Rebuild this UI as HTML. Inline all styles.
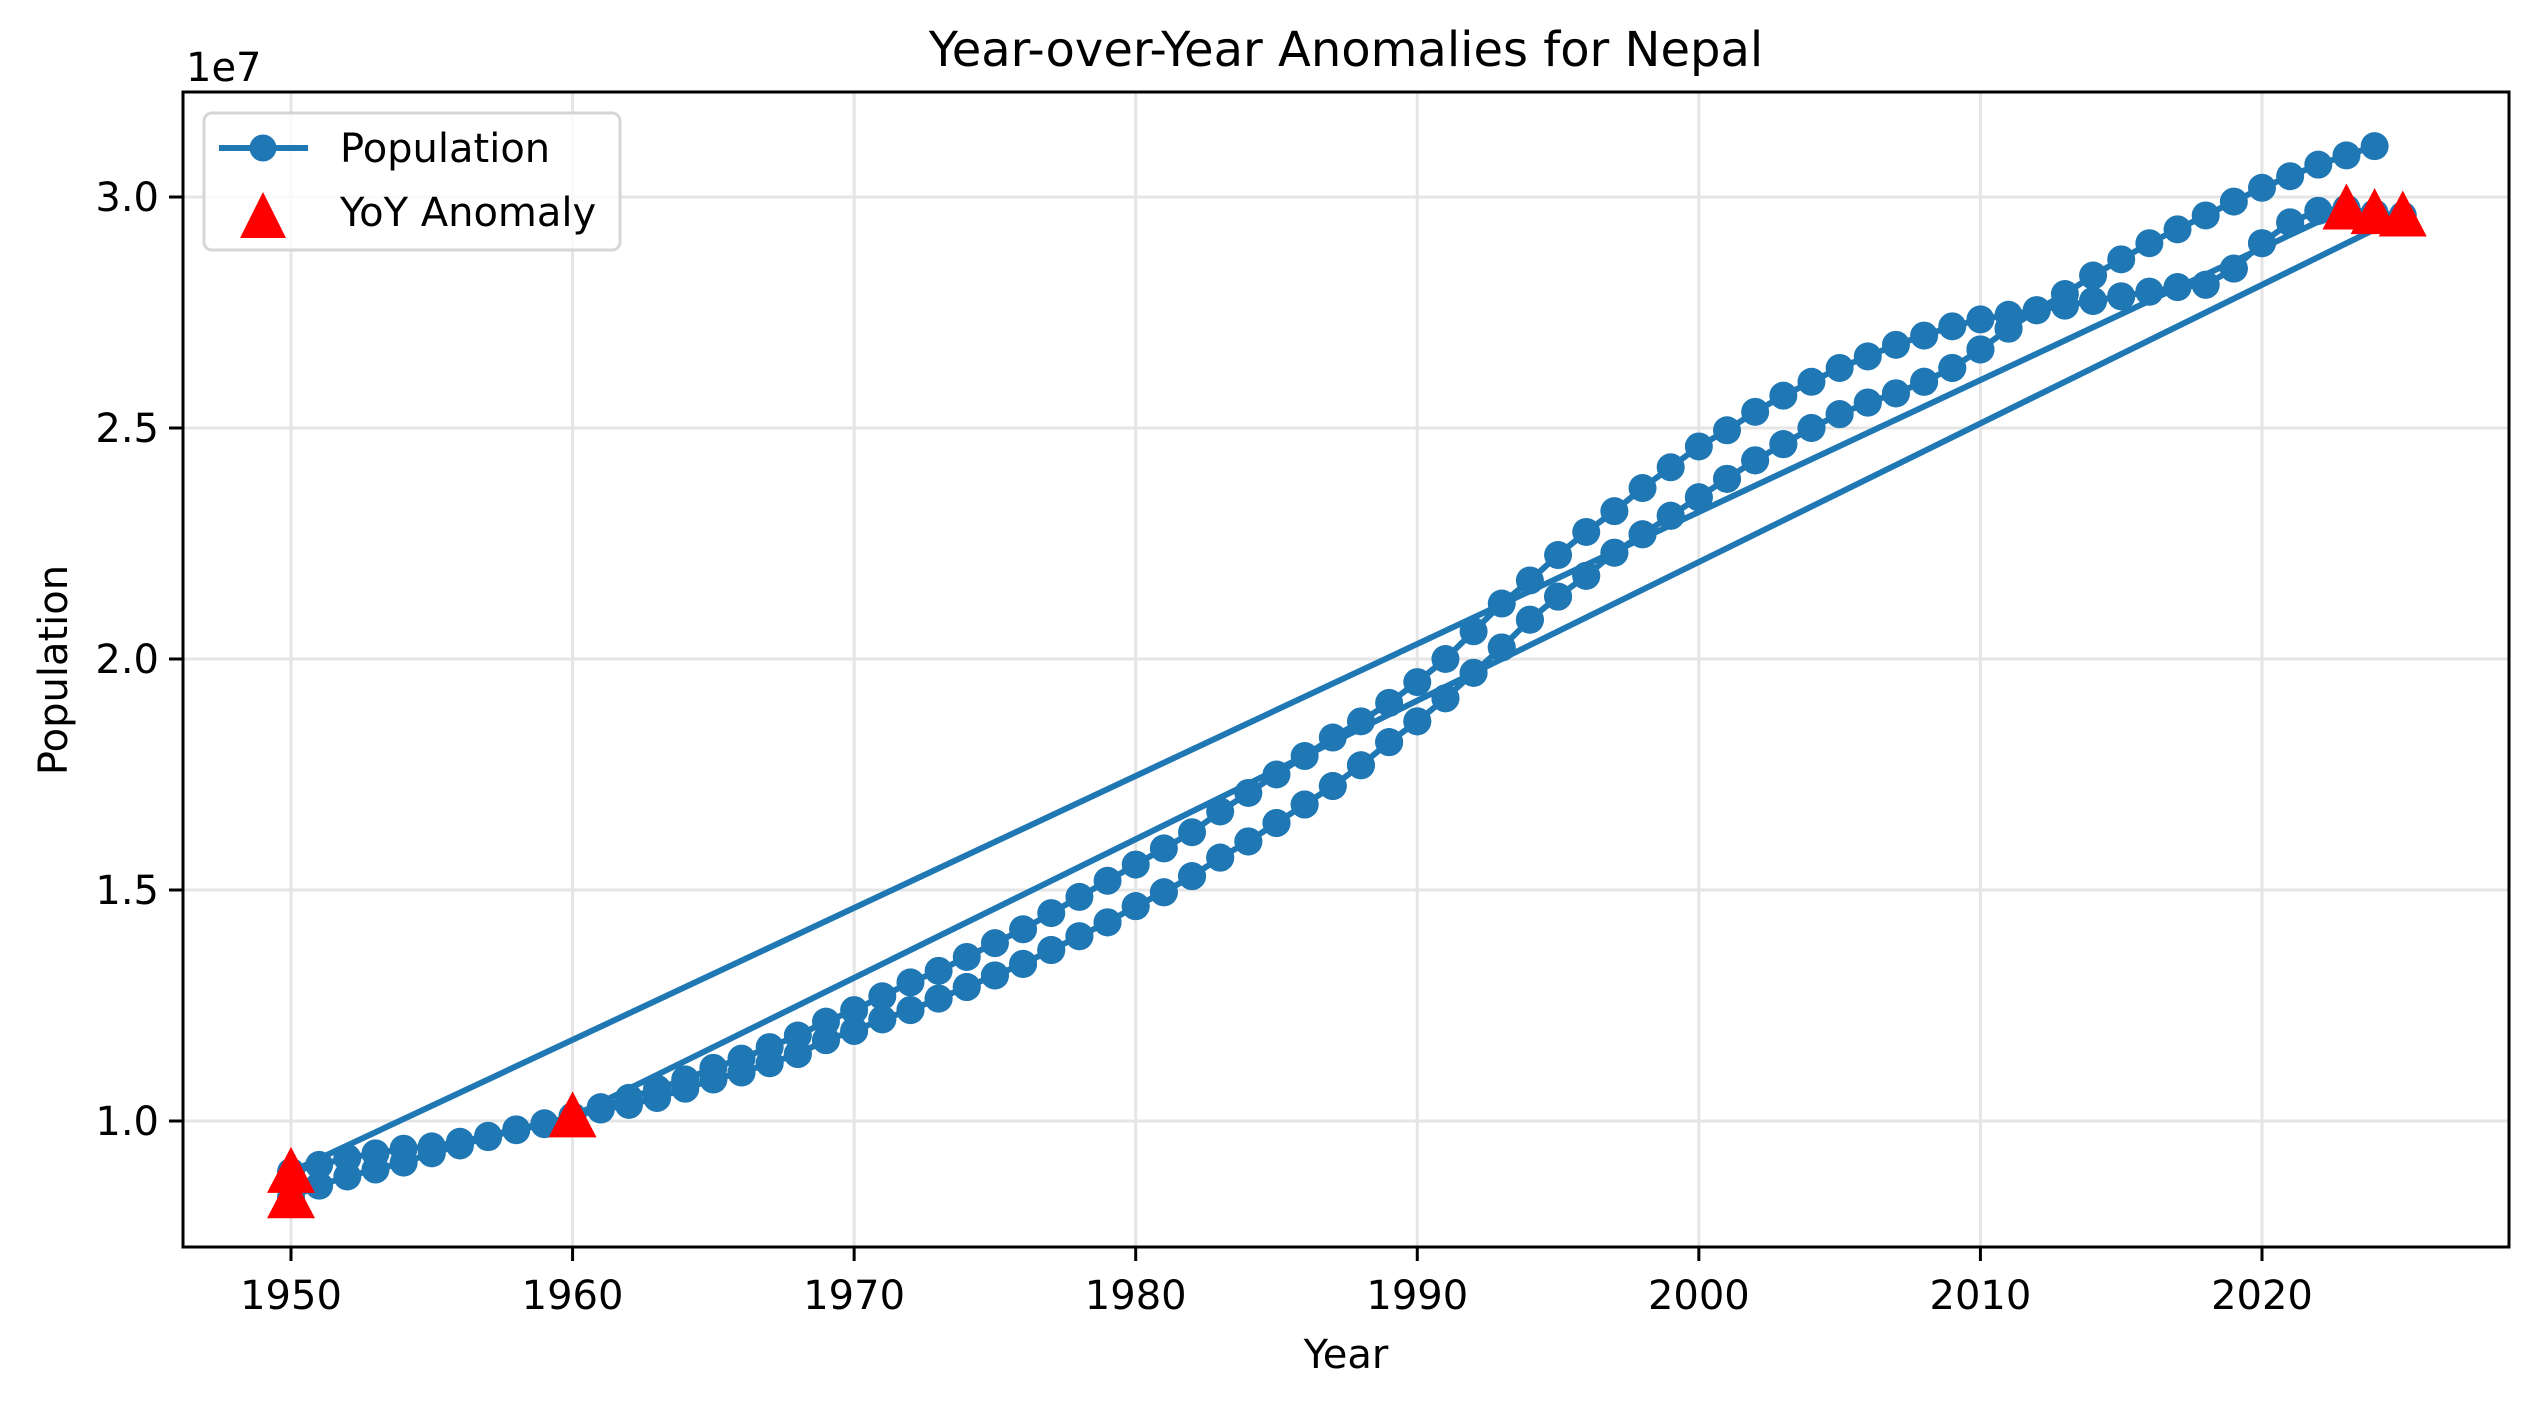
<!DOCTYPE html>
<html><head><meta charset="utf-8"><style>
html,body{margin:0;padding:0;background:#fff;}
svg{display:block;font-family:"DejaVu Sans","Liberation Sans",sans-serif;}
</style></head><body>
<svg id="chart" width="2539" height="1407" viewBox="0 0 2539 1407" xmlns="http://www.w3.org/2000/svg">
<rect width="2539" height="1407" fill="#fff"/>
<text x="1346" y="66" font-size="48" text-anchor="middle">Year-over-Year Anomalies for Nepal</text>
<g id="grid"></g>
<g id="series"></g>
<g id="axes"></g>
<text x="186" y="81" font-size="40">1e7</text>
<text x="1346" y="1368" font-size="40" text-anchor="middle">Year</text>
<text transform="translate(67,670) rotate(-90)" font-size="40" text-anchor="middle">Population</text>
<g>
<rect x="204" y="113" width="416" height="137" rx="8" fill="#fff" fill-opacity="0.8" stroke="#d6d6d6" stroke-width="3"/>
<line x1="219" y1="148" x2="308" y2="148" stroke="#1f77b4" stroke-width="6"/>
<circle cx="263" cy="148" r="13.5" fill="#1f77b4"/>
<text x="340" y="162" font-size="40">Population</text>
<polygon points="263,192 286,238 240,238" fill="#ff0000"/>
<text x="340" y="226" font-size="40">YoY Anomaly</text>
</g>
</svg>
<script>
// Data (population in millions)
const yearsA = [];for(let y=1950;y<=2025;y++)yearsA.push(y);
const popA = [8.35,8.6,8.8,8.95,9.1,9.3,9.47,9.65,9.8,9.93,10.1,10.25,10.35,10.5,10.7,10.9,11.05,11.25,11.45,11.75,11.95,12.2,12.4,12.65,12.9,13.15,13.4,13.7,14.0,14.3,14.65,14.95,15.3,15.7,16.05,16.45,16.85,17.25,17.7,18.2,18.65,19.15,19.7,20.25,20.85,21.35,21.8,22.3,22.7,23.1,23.5,23.9,24.3,24.65,25.0,25.3,25.55,25.75,26.0,26.3,26.7,27.15,27.55,27.65,27.75,27.85,27.95,28.05,28.1,28.45,29.0,29.45,29.7,29.75,29.65,29.6];
const yearsB = [];for(let y=1960;y<=2023;y++)yearsB.push(y);
const popB = [10.1,10.25,10.35,10.5,10.7,10.9,11.05,11.25,11.45,11.75,11.95,12.2,12.4,12.65,12.9,13.15,13.4,13.7,14.0,14.3,14.65,14.95,15.3,15.7,16.05,16.45,16.85,17.25,17.7,18.2,18.65,19.15,19.7,20.25,20.85,21.35,21.8,22.3,22.7,23.1,23.5,23.9,24.3,24.65,25.0,25.3,25.55,25.75,26.0,26.3,26.7,27.15,27.55,27.65,27.75,27.85,27.95,28.05,28.1,28.45,29.0,29.45,29.7,29.75];
const yearsC = [];for(let y=1950;y<=2024;y++)yearsC.push(y);
const popC = [8.9,9.05,9.2,9.3,9.4,9.45,9.55,9.68,9.82,9.95,10.1,10.3,10.5,10.7,10.9,11.15,11.35,11.6,11.85,12.15,12.4,12.7,13.0,13.25,13.55,13.85,14.15,14.5,14.85,15.2,15.55,15.9,16.25,16.7,17.1,17.5,17.9,18.3,18.65,19.05,19.5,20.0,20.6,21.2,21.7,22.25,22.75,23.2,23.7,24.15,24.6,24.95,25.35,25.7,26.0,26.3,26.55,26.8,27.0,27.2,27.35,27.45,27.55,27.9,28.3,28.65,29.0,29.3,29.6,29.9,30.2,30.45,30.7,30.9,31.1];
const anomalyYears = [1950,1950,1960,2023,2024,2025];
const anomalyPop = [8.35,8.9,10.1,29.75,29.65,29.6];
const xTicks = [1950,1960,1970,1980,1990,2000,2010,2020];
const yTicks = [10,15,20,25,30];
const yTickLabels = ["1.0","1.5","2.0","2.5","3.0"];

const L=183,R=2509,T=92,B=1247;
const X=y=>291+(y-1950)*28.157;
const Y=v=>1121-(v-10)*46.2;
const NS="http://www.w3.org/2000/svg";
function mk(tag,attrs,parent){const e=document.createElementNS(NS,tag);for(const k in attrs)e.setAttribute(k,attrs[k]);parent.appendChild(e);return e;}
const grid=document.getElementById('grid'),axes=document.getElementById('axes'),ser=document.getElementById('series');
xTicks.forEach(t=>{
  const g=mk('line',{x1:X(t),x2:X(t),y1:T,y2:B,stroke:'#e5e5e5','stroke-width':3},grid);
  
  
  mk('line',{x1:X(t),x2:X(t),y1:B,y2:B+14,stroke:'#000','stroke-width':3},axes);
  const tx=mk('text',{x:X(t),y:B+62,'font-size':40,'text-anchor':'middle'},axes);tx.textContent=t;
  
  
});
yTicks.forEach((t,i)=>{
  const g=mk('line',{x1:L,x2:R,y1:Y(t),y2:Y(t),stroke:'#e5e5e5','stroke-width':3},grid);
  
  
  mk('line',{x1:L-14,x2:L,y1:Y(t),y2:Y(t),stroke:'#000','stroke-width':3},axes);
  const tx=mk('text',{x:L-24,y:Y(t)+14,'font-size':40,'text-anchor':'end'},axes);tx.textContent=yTickLabels[i];
  
  
});
const frame=mk('rect',{x:L,y:T,width:R-L,height:B-T,fill:'none',stroke:'#000','stroke-width':3},axes);


const allX=[].concat(yearsA,yearsB,yearsC),allY=[].concat(popA,popB,popC);
const pts=allX.map((x,i)=>X(x).toFixed(1)+','+Y(allY[i]).toFixed(1)).join(' ');
const pl=mk('polyline',{points:pts,fill:'none',stroke:'#1f77b4','stroke-width':6,'stroke-linejoin':'round'},ser);


allX.forEach((x,i)=>{
  const c=mk('circle',{cx:X(x),cy:Y(allY[i]),r:14,fill:'#1f77b4'},ser);
  
  
});
anomalyYears.forEach((x,i)=>{
  const cx=X(x),cy=Y(anomalyPop[i]);
  const p=mk('polygon',{points:`${cx},${cy-25} ${cx+24},${cy+21} ${cx-24},${cy+21}`,fill:'#ff0000'},ser);
  
  
});
</script>
</body></html>
